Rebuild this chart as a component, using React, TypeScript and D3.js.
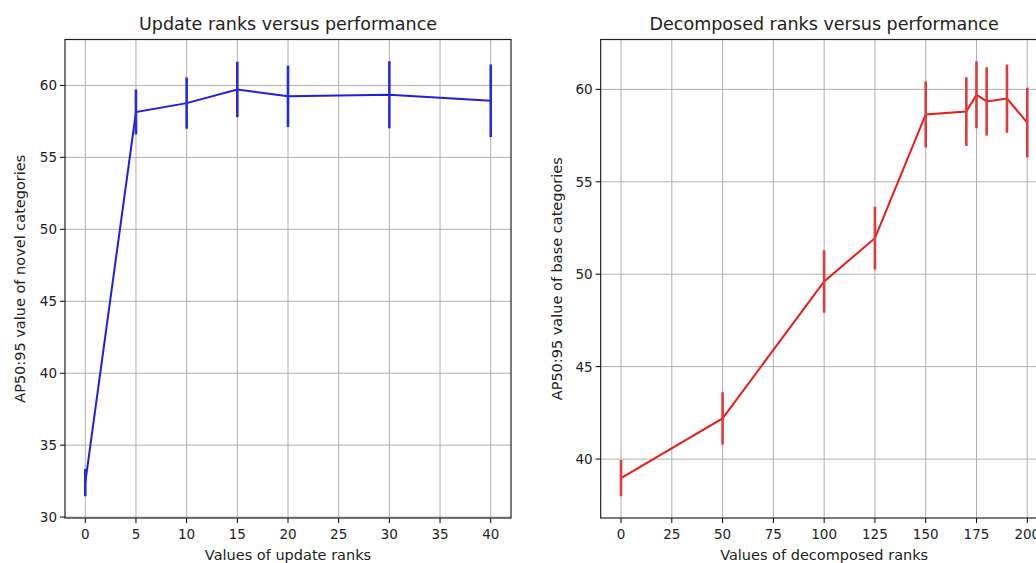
import React from "react";
import * as d3 from "d3";

const updateRanks = [0, 5, 10, 15, 20, 30, 40];
const updateAP = [32.4, 58.15, 58.77, 59.72, 59.24, 59.35, 58.93];
const updateErr = [0.95, 1.56, 1.78, 1.93, 2.13, 2.33, 2.52];

const decRanks = [0, 50, 100, 125, 150, 170, 175, 180, 190, 200];
const decAP = [38.97, 42.2, 49.61, 51.95, 58.64, 58.8, 59.71, 59.35, 59.5, 58.2];
const decErr = [0.98, 1.42, 1.69, 1.7, 1.78, 1.86, 1.81, 1.85, 1.85, 1.88];

const leftXTicks = [0, 5, 10, 15, 20, 25, 30, 35, 40];
const leftYTicks = [30, 35, 40, 45, 50, 55, 60];
const rightXTicks = [0, 25, 50, 75, 100, 125, 150, 175, 200];
const rightYTicks = [40, 45, 50, 55, 60];

const FONT = "DejaVu Sans, sans-serif";
const TXT = "#222";

type PanelProps = {
  x0: number;
  x1: number;
  y0: number;
  y1: number;
  xs: number[];
  ys: number[];
  errs: number[];
  xTicks: number[];
  yTicks: number[];
  title: string;
  xLabel: string;
  yLabel: string;
  lineColor: string;
  errColor: string;
  yLabelX: number;
};

function Panel(p: PanelProps) {
  const xMin = d3.min(p.xs)!;
  const xMax = d3.max(p.xs)!;
  const xPad = (xMax - xMin) * 0.05;
  const lo = d3.min(p.ys.map((v, i) => v - p.errs[i]))!;
  const hi = d3.max(p.ys.map((v, i) => v + p.errs[i]))!;
  const yPad = (hi - lo) * 0.05;
  const x = d3.scaleLinear().domain([xMin - xPad, xMax + xPad]).range([p.x0, p.x1]);
  const y = d3.scaleLinear().domain([lo - yPad, hi + yPad]).range([p.y1, p.y0]);
  const line = d3
    .line<number>()
    .x((_, i) => x(p.xs[i]))
    .y((v) => y(v));
  const cx = (p.x0 + p.x1) / 2;
  const cy = (p.y0 + p.y1) / 2;
  return (
    <g>
      <defs>
        <clipPath id={"clip" + p.x0}>
          <rect x={p.x0} y={p.y0} width={p.x1 - p.x0} height={p.y1 - p.y0} />
        </clipPath>
      </defs>
      {p.xTicks.map((t) => (
        <g key={"xg" + t}>
          <line x1={x(t)} x2={x(t)} y1={p.y0} y2={p.y1} stroke="#b0b0b0" strokeWidth={1} />
          <line x1={x(t)} x2={x(t)} y1={p.y1} y2={p.y1 + 5} stroke="#000" strokeWidth={1} />
          <text x={x(t)} y={p.y1 + 21} textAnchor="middle" fontSize={13.5} fontFamily={FONT} fill={TXT}>
            {t}
          </text>
        </g>
      ))}
      {p.yTicks.map((t) => (
        <g key={"yg" + t}>
          <line x1={p.x0} x2={p.x1} y1={y(t)} y2={y(t)} stroke="#b0b0b0" strokeWidth={1} />
          <line x1={p.x0 - 5} x2={p.x0} y1={y(t)} y2={y(t)} stroke="#000" strokeWidth={1} />
          <text x={p.x0 - 8} y={y(t) + 5} textAnchor="end" fontSize={13.5} fontFamily={FONT} fill={TXT}>
            {t}
          </text>
        </g>
      ))}
      <g clipPath={`url(#clip${p.x0})`}>
        <path d={line(p.ys)!} fill="none" stroke={p.lineColor} strokeWidth={2} />
        {p.xs.map((xv, i) => (
          <line
            key={"e" + i}
            x1={x(xv)}
            x2={x(xv)}
            y1={y(p.ys[i] - p.errs[i])}
            y2={y(p.ys[i] + p.errs[i])}
            stroke={p.errColor}
            strokeWidth={2.6}
          />
        ))}
      </g>
      <rect x={p.x0} y={p.y0} width={p.x1 - p.x0} height={p.y1 - p.y0} fill="none" stroke="#222" strokeWidth={1.2} />
      <text x={cx} y={p.y0 - 10} textAnchor="middle" fontSize={17.5} fontFamily={FONT} fill={TXT}>
        {p.title}
      </text>
      <text x={cx} y={p.y1 + 42} textAnchor="middle" fontSize={14.5} fontFamily={FONT} fill={TXT}>
        {p.xLabel}
      </text>
      <text
        transform={`translate(${p.yLabelX},${cy}) rotate(-90)`}
        textAnchor="middle"
        fontSize={14.5}
        fontFamily={FONT}
        fill={TXT}
      >
        {p.yLabel}
      </text>
    </g>
  );
}

export default function App() {
  return (
    <svg
      width={1036}
      height={563}
      style={{ position: "absolute", left: 0, top: 0, background: "#fff" }}
    >
      <rect width={1036} height={563} fill="#fff" />
      <Panel
        x0={65}
        x1={511}
        y0={39.5}
        y1={518}
        xs={updateRanks}
        ys={updateAP}
        errs={updateErr}
        xTicks={leftXTicks}
        yTicks={leftYTicks}
        title="Update ranks versus performance"
        xLabel="Values of update ranks"
        yLabel="AP50:95 value of novel categories"
        lineColor="#1f1fe0"
        errColor="#2a2ad8"
        yLabelX={25}
      />
      <Panel
        x0={600.7}
        x1={1047.6}
        y0={39.5}
        y1={518}
        xs={decRanks}
        ys={decAP}
        errs={decErr}
        xTicks={rightXTicks}
        yTicks={rightYTicks}
        title="Decomposed ranks versus performance"
        xLabel="Values of decomposed ranks"
        yLabel="AP50:95 value of base categories"
        lineColor="#e81c1c"
        errColor="#e03a3a"
        yLabelX={562}
      />
    </svg>
  );
}
